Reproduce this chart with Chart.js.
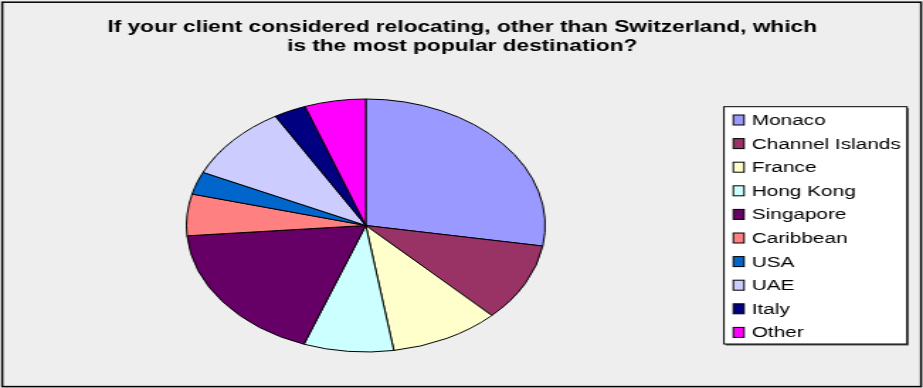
<!DOCTYPE html>
<html>
<head>
<meta charset="utf-8">
<script src="https://cdn.jsdelivr.net/npm/chart.js@4"></script>
<style>
  html, body { margin: 0; padding: 0; background: #eeeeee; }
</style>
</head>
<body>
<!-- the reference is a stretched image, so the canvas is drawn narrow and widened by css -->
<canvas id="pie" width="651" height="388" style="width:923px;height:388px"></canvas>
<script>
const titleLines = [
  "If your client considered relocating, other than Switzerland, which",
  "is the most popular destination?"
];

const destinations = ["Monaco", "Channel Islands", "France", "Hong Kong", "Singapore",
  "Caribbean", "USA", "UAE", "Italy", "Other"];

const shares = [27.6, 10.0, 9.9, 8.1, 18.1, 5.3, 2.9, 9.7, 2.9, 5.5];

const sliceColors = ["#9999ff", "#993366", "#ffffcc", "#ccffff", "#660066",
  "#ff8080", "#0066cc", "#ccccff", "#000080", "#ff00ff"];

const frame = {
  id: "frame",
  beforeDraw(chart) {
    const c = chart.ctx;
    c.save();
    c.fillStyle = "#eeeeee";
    c.fillRect(0, 0, chart.width, chart.height);
    c.strokeStyle = "#000";
    c.lineWidth = 1.5;
    c.strokeRect(1.6, 2.2, chart.width - 3.0, chart.height - 3.6);
    c.restore();
  },
  afterDraw(chart) {
    const c = chart.ctx;
    c.save();

    // title
    c.fillStyle = "#000";
    c.font = "bold 16px 'Liberation Sans', Arial, sans-serif";
    c.textAlign = "center";
    c.textBaseline = "middle";
    titleLines.forEach((line, i) => {
      c.fillText(line, chart.width / 2 + 0.5, 28 + i * 19);
    });

    // legend box
    const left = 510.6, top = 106.7, right = 639.7, bottom = 344;
    c.fillStyle = "#555";
    c.fillRect(left + 1.2, top + 1.5, right - left, bottom - top);
    c.fillStyle = "#fff";
    c.fillRect(left, top, right - left, bottom - top);
    c.strokeStyle = "#000";
    c.lineWidth = 1;
    c.strokeRect(left, top, right - left, bottom - top);

    c.font = "14.67px 'Liberation Sans', Arial, sans-serif";
    c.textAlign = "left";
    const colors = chart.data.datasets[0].backgroundColor;
    chart.data.labels.forEach((label, i) => {
      const y = 120 + i * 23.6;
      c.fillStyle = colors[i];
      c.fillRect(517.2, y - 5, 7.6, 10);
      c.strokeStyle = "#000";
      c.lineWidth = 1;
      c.strokeRect(517.2, y - 5, 7.6, 10);
      c.fillStyle = "#000";
      c.fillText(label, 530.2, y + 1);
    });
    c.restore();
  }
};

new Chart(document.getElementById("pie"), {
  type: "pie",
  data: {
    labels: destinations,
    datasets: [{
      data: shares,
      backgroundColor: sliceColors,
      borderColor: "#000",
      borderWidth: 1
    }]
  },
  options: {
    responsive: false,
    devicePixelRatio: 1,
    animation: false,
    layout: {
      padding: { left: 131, right: 266, top: 98.5, bottom: 35.5 }
    },
    plugins: {
      legend: { display: false },
      title: { display: false },
      tooltip: { enabled: false }
    }
  },
  plugins: [frame]
});
</script>
</body>
</html>
